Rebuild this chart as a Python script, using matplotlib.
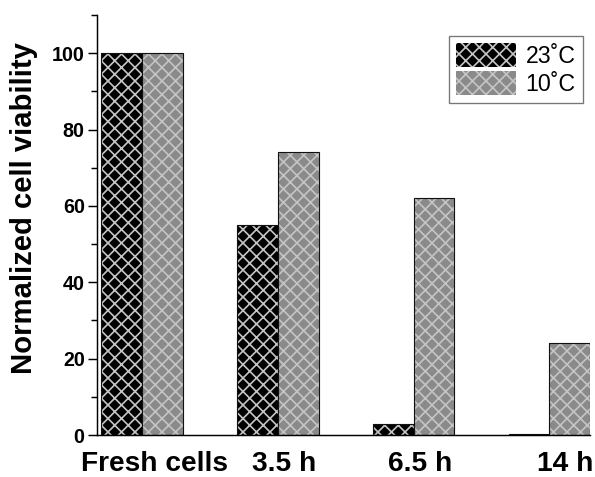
import matplotlib
matplotlib.use("Agg")
import matplotlib.pyplot as plt
from matplotlib.patches import Patch
import numpy as np

categories = ["Fresh cells", "3.5 h", "6.5 h", "14 h"]
series_names = ["23\u02daC", "10\u02daC"]
vals_23 = [100, 55, 3, 0.3]
vals_10 = [100, 74, 62, 24]
yticks = [0, 20, 40, 60, 80, 100]

plt.rcParams['font.family'] = ['Liberation Sans', 'DejaVu Sans']
plt.rcParams['hatch.linewidth'] = 1.5

DPI = 81
fig = plt.figure(figsize=(595 / DPI, 477 / DPI), dpi=DPI)
ax = fig.add_axes([97 / 595, 1 - 435 / 477, (590 - 97) / 595, (435 - 15) / 477])

x = np.arange(len(categories))
w = 0.3
fills = ["#000000", "#8a8a8a"]
hatch_col = "#c4c4c4"
for vals, off, fc in [(vals_23, -w / 2, fills[0]), (vals_10, w / 2, fills[1])]:
    ax.bar(x + off, vals, w, color=fc, edgecolor=hatch_col, hatch="xx", linewidth=0)
    ax.bar(x + off, vals, w, fill=False, edgecolor="#111111", linewidth=1.0)

ax.set_xlim(-0.332, 3.30)
ax.set_ylim(0, 110)
ax.spines['top'].set_visible(False)
ax.spines['right'].set_visible(False)
ax.spines['left'].set_linewidth(1.3)
ax.spines['bottom'].set_linewidth(1.3)

ax.set_yticks(yticks)
ax.set_yticklabels([str(v) for v in yticks], fontsize=17.5, fontweight='bold')
ax.set_yticks(np.arange(10, 111, 20), minor=True)
ax.tick_params(axis='y', which='major', direction='out', length=8, width=1.3, pad=3)
ax.tick_params(axis='y', which='minor', direction='out', length=5, width=1.3)

ax.set_xticks(x + np.array([0.09, 0.05, 0.05, 0.12]))
ax.set_xticklabels(categories, fontsize=25, fontweight='bold')
ax.tick_params(axis='x', length=0, pad=14)

fig.text(24 / 595, 1 - 208 / 477, "Normalized cell viability", rotation=90,
         ha='center', va='center', fontsize=26, fontweight='bold')

handles = [Patch(facecolor=fills[0], edgecolor=hatch_col, hatch="xx", linewidth=0),
           Patch(facecolor=fills[1], edgecolor=hatch_col, hatch="xx", linewidth=0)]
leg = ax.legend(handles, series_names, loc='upper right', bbox_to_anchor=(0.985, 0.95),
                fontsize=20.5, frameon=True, fancybox=False, handlelength=2.6, handleheight=1.2,
                handletextpad=0.4, borderpad=0.3, labelspacing=0.15, borderaxespad=0)
leg.get_frame().set_edgecolor("#555555")
leg.get_frame().set_linewidth(1.2)

fig.savefig("out.png", dpi=DPI)
